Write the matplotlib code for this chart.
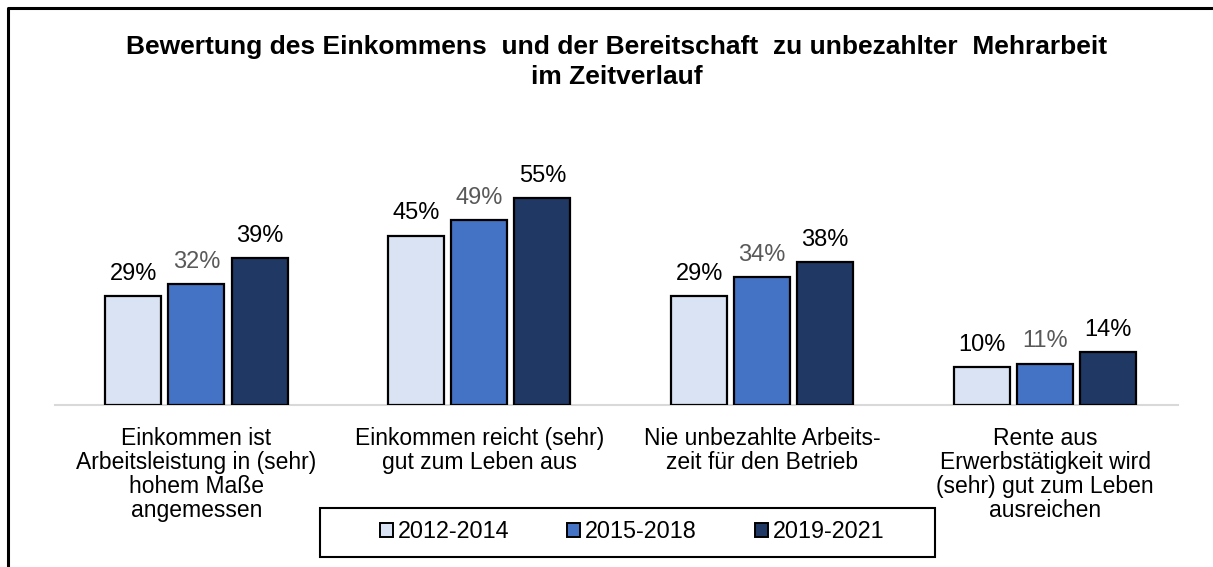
import matplotlib.pyplot as plt
import numpy as np
from matplotlib.patches import Rectangle, Patch
from matplotlib.lines import Line2D

plt.rcParams['font.family'] = ['Liberation Sans', 'DejaVu Sans']

categories = [
    "Einkommen ist\nArbeitsleistung in (sehr)\nhohem Maße\nangemessen",
    "Einkommen reicht (sehr)\ngut zum Leben aus",
    "Nie unbezahlte Arbeits-\nzeit für den Betrieb",
    "Rente aus\nErwerbstätigkeit wird\n(sehr) gut zum Leben\nausreichen",
]
periods = ["2012-2014", "2015-2018", "2019-2021"]
v_2012_2014 = [29, 45, 29, 10]
v_2015_2018 = [32, 49, 34, 11]
v_2019_2021 = [39, 55, 38, 14]
series = [v_2012_2014, v_2015_2018, v_2019_2021]

colors = ["#DAE3F3", "#4472C4", "#203864"]
label_colors = ["#000000", "#595959", "#000000"]

W, H = 1213, 567
fig = plt.figure(figsize=(W / 100, H / 100), dpi=100)
ax = fig.add_axes([55 / W, 1 - 405 / H, (1178 - 55) / W, (405 - 179) / H])

x = np.arange(len(categories))
width = 0.198
step = 0.223
for i, vals in enumerate(series):
    pos = x + (i - 1) * step
    bars = ax.bar(pos, vals, width, color=colors[i], edgecolor="black", linewidth=1.6, zorder=3)
    for b, v in zip(bars, vals):
        ax.annotate(f"{v}%", (b.get_x() + b.get_width() / 2, v), xytext=(0, 8),
                    textcoords="offset points", ha="center", va="bottom",
                    fontsize=17, color=label_colors[i])

ax.set_xlim(-0.5, 3.47)
ax.set_ylim(0, 60)
for s in ["top", "right", "left"]:
    ax.spines[s].set_visible(False)
ax.spines["bottom"].set_color("#D9D9D9")
ax.spines["bottom"].set_linewidth(1.5)
ax.set_yticks([])
ax.set_xticks(x)
ax.set_xticklabels(categories, fontsize=16.5, linespacing=1.05)
ax.tick_params(axis="x", length=0, pad=16)

fig.text(617 / W, 1 - 62 / H,
         "Bewertung des Einkommens  und der Bereitschaft  zu unbezahlter  Mehrarbeit\nim Zeitverlauf",
         ha="center", va="center", fontsize=19, fontweight="bold", linespacing=1.3)

# outer border (top and left)
fig.add_artist(Line2D([8 / W, 8 / W, 1.0], [0, 1 - 8 / H, 1 - 8 / H],
                      transform=fig.transFigure, color="black", lw=2.2))

# legend
fig.add_artist(Rectangle((320 / W, 1 - 557 / H), 615 / W, 49 / H, transform=fig.transFigure,
                         fill=False, edgecolor="black", lw=1.5))
handles = [Patch(facecolor=c, edgecolor="black", linewidth=1.4) for c in colors]
fig.legend(handles, periods, loc="center", bbox_to_anchor=(632 / W, 1 - 532 / H),
           ncol=3, frameon=False, fontsize=16.8, handlelength=0.55, handleheight=0.55,
           handletextpad=0.2, columnspacing=2.5)

fig.savefig("out.png", dpi=100)
